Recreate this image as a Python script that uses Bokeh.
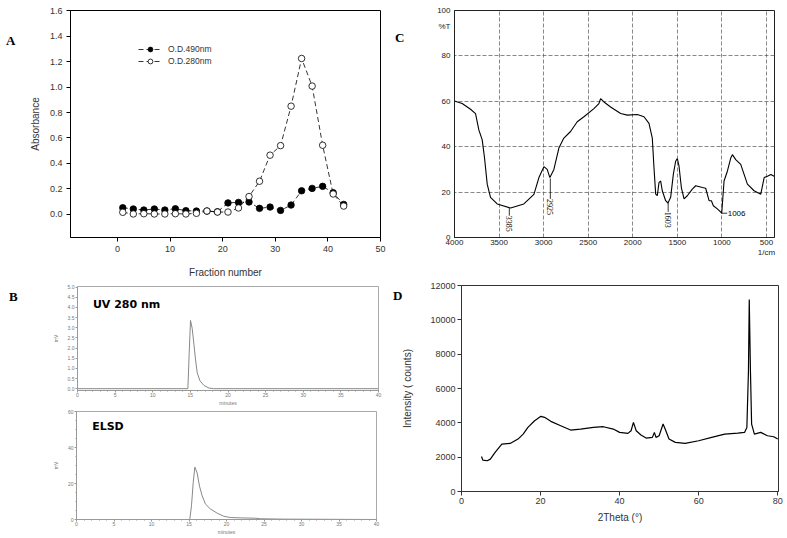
from math import pi
from bokeh.plotting import figure
from bokeh.layouts import row, column
from bokeh.models import (Label, LabelSet, ColumnDataSource, Legend, LegendItem,
                          FixedTicker, NumeralTickFormatter, LinearAxis, Div)
from bokeh.embed import file_html
from bokeh.resources import INLINE

# ---------------- Panel A data ----------------
fraction = [1, 3, 5, 7, 9, 11, 13, 15, 17, 19, 21, 23, 25, 27, 29, 31, 33, 35, 37, 39, 41, 43]
od490 = [0.052, 0.042, 0.034, 0.042, 0.034, 0.044, 0.029, 0.026, 0.026, 0.020, 0.090, 0.094,
         0.097, 0.047, 0.057, 0.031, 0.073, 0.185, 0.204, 0.220, 0.170, 0.078]
od280 = [0.016, 0.003, 0.005, 0.003, 0.003, 0.005, 0.003, 0.008, 0.026, 0.018, 0.018, 0.050,
         0.140, 0.260, 0.465, 0.540, 0.850, 1.225, 1.008, 0.543, 0.160, 0.065]
a_xticks = [0, 10, 20, 30, 40, 50]
a_yticks = [0.0, 0.2, 0.4, 0.6, 0.8, 1.0, 1.2, 1.4, 1.6]

# ---------------- Panel B data ----------------
uv_t = [0, 14.67, 14.84, 15.02, 15.24, 15.47, 15.69, 15.91, 16.27, 16.8, 17.47, 18.1, 40]
uv_mv = [0, 0, 1.72, 3.36, 2.97, 2.19, 1.41, 0.78, 0.39, 0.16, 0.03, 0, 0]
elsd_t = [0, 15.1, 15.33, 15.56, 15.78, 16.09, 16.4, 16.76, 17.2, 17.87, 18.76, 19.64, 20.5,
          21.9, 23.9, 24.5, 27.6, 40]
elsd_mv = [0, 0, 7.6, 20.4, 29.1, 25.8, 18.5, 13.1, 8.5, 5.8, 3.5, 1.8, 1.1, 0.9, 0.7, 0.4, 0.2, 0]
b_xticks = [0, 5, 10, 15, 20, 25, 30, 35, 40]
uv_yticks = [0.0, 0.5, 1.0, 1.5, 2.0, 2.5, 3.0, 3.5, 4.0, 4.5, 5.0]
elsd_yticks = [0, 20, 40, 60]

# ---------------- Panel C data ----------------
ir_wn = [4000, 3914, 3820, 3764, 3727, 3689, 3663, 3633, 3596, 3521, 3371, 3222, 3109, 3053,
         2997, 2960, 2930, 2885, 2829, 2773, 2698, 2623, 2548, 2436, 2380, 2361, 2323, 2249,
         2136, 2061, 1949, 1874, 1818, 1781, 1762, 1743, 1725, 1706, 1687, 1669, 1631, 1605,
         1575, 1545, 1519, 1500, 1481, 1455, 1425, 1388, 1332, 1294, 1219, 1182, 1144, 1118,
         1096, 1051, 1013, 1002, 976, 938, 901, 882, 845, 789, 714, 639, 564, 526, 489, 451, 414]
ir_t = [60.1, 59.0, 56.5, 54.6, 47.4, 43.0, 35.0, 23.5, 17.7, 14.8, 13.0, 14.8, 19.0, 26.4,
        31.2, 30.0, 26.4, 30.0, 39.4, 43.8, 46.7, 51.0, 53.2, 56.8, 59.0, 61.2, 59.7, 57.5,
        54.6, 53.9, 54.2, 53.2, 50.3, 43.8, 30.7, 19.1, 18.4, 24.2, 24.9, 20.6, 16.2, 15.2,
        17.7, 27.8, 33.6, 34.8, 31.4, 22.0, 17.0, 18.4, 21.3, 22.8, 22.0, 21.7, 16.2, 16.2,
        14.0, 12.6, 11.2, 10.7, 24.9, 29.3, 35.0, 36.5, 34.3, 32.2, 23.5, 20.6, 19.1, 26.4,
        27.0, 27.8, 27.0]
peak_wn = [3385, 2925, 1603]
peak_t = [13.0, 26.0, 15.2]
peak_label_top = [9.6, 17.0, 11.3]
c_xticks = [4000, 3500, 3000, 2500, 2000, 1500, 1000, 500]
c_yticks = [0, 20, 40, 60, 80, 100]
c_unit_tick = 93  # where the "%T" unit label sits on the y axis

# ---------------- Panel D data ----------------
theta = [5.06, 5.4, 6.5, 7.3, 8.5, 10.2, 12.3, 14.3, 15.6, 16.8, 18.5, 20.1, 21.0, 22.6, 25.1,
         27.6, 30.1, 33.4, 35.9, 38.4, 40.0, 42.1, 42.9, 43.5, 44.2, 45.4, 46.7, 48.3, 48.8,
         49.2, 50.0, 51.0, 51.7, 52.5, 54.1, 56.6, 60.0, 63.3, 66.6, 69.9, 71.6, 72.2, 72.6,
         72.8, 73.1, 73.4, 74.1, 75.7, 77.4, 79.0, 80.0]
intensity = [2043, 1829, 1790, 1887, 2276, 2762, 2800, 3054, 3346, 3735, 4124, 4377, 4319, 4086,
             3833, 3580, 3638, 3735, 3774, 3638, 3443, 3385, 3541, 4027, 3541, 3288, 3113, 3152,
             3443, 3152, 3249, 3930, 3541, 3054, 2860, 2801, 2957, 3152, 3346, 3405, 3443, 3735,
             7042, 11183, 7042, 3930, 3346, 3443, 3249, 3191, 3054]
d_xticks = [0, 20, 40, 60, 80]
d_yticks = [0, 2000, 4000, 6000, 8000, 10000, 12000]
d_letter_tick = 11445

SANS = "Liberation Sans"
SERIF = "Liberation Serif"


def base(width, height, xr, yr, left, right, top, bottom):
    p = figure(width=width, height=height, x_range=xr, y_range=yr,
               output_backend="svg", toolbar_location=None,
               min_border_left=left, min_border_right=right,
               min_border_top=top, min_border_bottom=bottom)
    p.xgrid.grid_line_color = None
    p.ygrid.grid_line_color = None
    p.background_fill_color = "white"
    p.border_fill_color = "white"
    return p


def style_axes(p, font, size, color, line_color, tick_out, standoff):
    for ax in (p.xaxis[0], p.yaxis[0]):
        ax.major_label_text_font = font
        ax.major_label_text_font_size = size
        ax.major_label_text_color = color
        ax.axis_label_text_font = font
        ax.axis_label_text_font_style = "normal"
        ax.axis_line_color = line_color
        ax.major_tick_line_color = line_color
        ax.major_tick_out = tick_out
        ax.major_tick_in = 0
        ax.minor_tick_line_color = None
        ax.major_label_standoff = standoff


def letter_div(t, width, height, top, left):
    html = ('<div style="margin-top:%dpx;margin-left:%dpx;font-family:\'Liberation Serif\';'
            'font-weight:bold;font-size:13px;line-height:14px;color:black">%s</div>'
            % (top, left, t))
    return Div(text=html, width=width, height=height, margin=0)


# ================= Panel A =================
pA = base(369, 280, (-8.94, 50), (-0.182, 1.602), 49, 10, 10, 42)
pA.outline_line_color = "black"
style_axes(pA, SANS, "9px", "#333333", "black", 4, 4)
pA.xaxis.ticker = FixedTicker(ticks=a_xticks)
pA.yaxis.ticker = FixedTicker(ticks=a_yticks)
pA.yaxis.formatter = NumeralTickFormatter(format="0.0")
pA.xaxis.axis_label = "Fraction number"
pA.yaxis.axis_label = "Absorbance"
for ax in (pA.xaxis[0], pA.yaxis[0]):
    ax.axis_label_text_font_size = "10px"
    ax.axis_label_text_color = "#333333"
pA.xaxis.axis_label_standoff = 12
pA.yaxis.axis_label_standoff = 6
pA.yaxis.major_label_standoff = 4

l1 = pA.line(fraction, od490, line_color="black", line_width=0.8, line_dash="5 3")
s1 = pA.scatter(fraction, od490, marker="circle", size=6.5, fill_color="black",
                line_color="black", line_width=0.8)
l2 = pA.line(fraction, od280, line_color="black", line_width=0.8, line_dash="5 3")
s2 = pA.scatter(fraction, od280, marker="circle", size=6.5, fill_color="white",
                line_color="black", line_width=0.8)
leg = Legend(items=[LegendItem(label="O.D.490nm", renderers=[l1, s1]),
                    LegendItem(label="O.D.280nm", renderers=[l2, s2])],
             location=(68, 170), glyph_width=24, glyph_height=12, label_standoff=6,
             padding=0, margin=0, spacing=0, label_height=12,
             label_text_font=SANS, label_text_font_size="8.5px",
             label_text_color="#333333", border_line_alpha=0, background_fill_alpha=0)
pA.add_layout(leg)

# ================= Panel C =================
pC = base(376, 280, (4000, 410), (0, 100), 44, 12, 7, 43)
pC.outline_line_color = "#222222"
style_axes(pC, SANS, "8px", "#222222", "#222222", 0, 4)
pC.xaxis.ticker = FixedTicker(ticks=c_xticks)
pC.yaxis.ticker = FixedTicker(ticks=c_yticks + [c_unit_tick])
pC.yaxis.major_label_overrides = {c_unit_tick: "%T"}
pC.xaxis.major_label_standoff = 0
pC.xaxis.major_label_overrides = {500: "500\n1/cm"}
pC.xgrid.ticker = FixedTicker(ticks=c_xticks[1:])
pC.ygrid.ticker = FixedTicker(ticks=c_yticks[1:-1])
for g in (pC.xgrid[0], pC.ygrid[0]):
    g.grid_line_color = "#555555"
    g.grid_line_dash = "4 2"
    g.grid_line_width = 0.7
pC.line(ir_wn, ir_t, line_color="black", line_width=1.1)
pC.segment(x0=peak_wn, y0=peak_t, x1=peak_wn, y1=peak_label_top,
           line_color="black", line_width=0.8)
pC.segment(x0=[1006], y0=[10.7], x1=[940], y1=[10.7], line_color="black", line_width=0.8)
src_pk = ColumnDataSource(dict(x=peak_wn, y=peak_label_top, t=[str(v) for v in peak_wn]))
pC.add_layout(LabelSet(x="x", y="y", text="t", source=src_pk, angle=-pi / 2,
                       text_font=SANS, text_font_size="8px", text_align="left",
                       text_baseline="middle", text_color="black"))
pC.add_layout(Label(x=935, y=10.7, text="1006", text_font=SANS, text_font_size="8px",
                    text_align="left", text_baseline="middle", text_color="black"))

# ================= Panel B =================
def style_b(p):
    p.outline_line_color = "#aaaaaa"
    style_axes(p, SANS, "5px", "#777777", "#999999", 2, 0)
    for ax in (p.xaxis[0], p.yaxis[0]):
        ax.axis_label_text_font_size = "5px"
        ax.axis_label_text_color = "#777777"
        ax.axis_label_standoff = 0
        ax.minor_tick_line_color = "#999999"
        ax.minor_tick_out = 1
        ax.minor_tick_in = 0
    p.yaxis.major_label_standoff = 1
    p.xaxis.axis_label = "minutes"
    p.yaxis.axis_label = "mV"
    p.yaxis.axis_label_standoff = 6


pB1 = base(364, 128, (0, 40), (-0.09, 5.03), 51, 12, 6, 13)
style_b(pB1)
pB1.xaxis.ticker = FixedTicker(ticks=b_xticks, minor_ticks=list(range(0, 41)))
pB1.yaxis.ticker = FixedTicker(ticks=uv_yticks)
pB1.yaxis.formatter = NumeralTickFormatter(format="0.0")
pB1.line(uv_t, uv_mv, line_color="#888888", line_width=1)
pB1.add_layout(Label(x=2.05, y=4.14, text="UV 280 nm", text_font="DejaVu Sans",
                     text_font_style="bold", text_font_size="11px", text_align="left",
                     text_baseline="middle", text_color="black"))

pB2 = base(390, 129, (0, 40), (0, 60), 76, 14, 3, 16)
style_b(pB2)
pB2.xaxis.ticker = FixedTicker(ticks=b_xticks, minor_ticks=list(range(0, 41)))
pB2.yaxis.ticker = FixedTicker(ticks=elsd_yticks, minor_ticks=list(range(0, 61, 5)))
pB2.line(elsd_t, elsd_mv, line_color="#888888", line_width=1)
pB2.add_layout(Label(x=2.09, y=51.8, text="ELSD", text_font="DejaVu Sans",
                     text_font_style="bold", text_font_size="11px", text_align="left",
                     text_baseline="middle", text_color="black"))

# ================= Panel D =================
pD = base(396, 257, (0, 80.2), (0, 12000), 66, 8, 5, 46)
pD.outline_line_color = "#333333"
style_axes(pD, SANS, "9px", "#333333", "#333333", 4, 2)
pD.xaxis.ticker = FixedTicker(ticks=d_xticks)
pD.yaxis.ticker = FixedTicker(ticks=d_yticks)
pD.xaxis.axis_label = "2Theta (°)"
pD.yaxis.axis_label = "Intensity ( counts)"
for ax in (pD.xaxis[0], pD.yaxis[0]):
    ax.axis_label_text_font_size = "10px"
    ax.axis_label_text_color = "#333333"
pD.xaxis.axis_label_standoff = 5
pD.yaxis.axis_label_standoff = 14
pD.line(theta, intensity, line_color="black", line_width=1.2)
d_axis = LinearAxis(ticker=FixedTicker(ticks=[d_letter_tick]),
                    major_label_overrides={d_letter_tick: "D"},
                    axis_line_color=None, major_tick_line_color=None,
                    minor_tick_line_color=None, major_label_standoff=-9,
                    major_label_text_font=SERIF, major_label_text_font_style="bold",
                    major_label_text_font_size="13px", major_label_text_color="black")
pD.add_layout(d_axis, "left")

layout = column(
    row(letter_div("A", 21, 280, 34, 6), pA, letter_div("C", 20, 280, 31, 5), pC),
    row(column(row(letter_div("B", 26, 128, 10, 9), pB1), pB2), pD),
)

open("out.html", "w").write(file_html(layout, INLINE))
